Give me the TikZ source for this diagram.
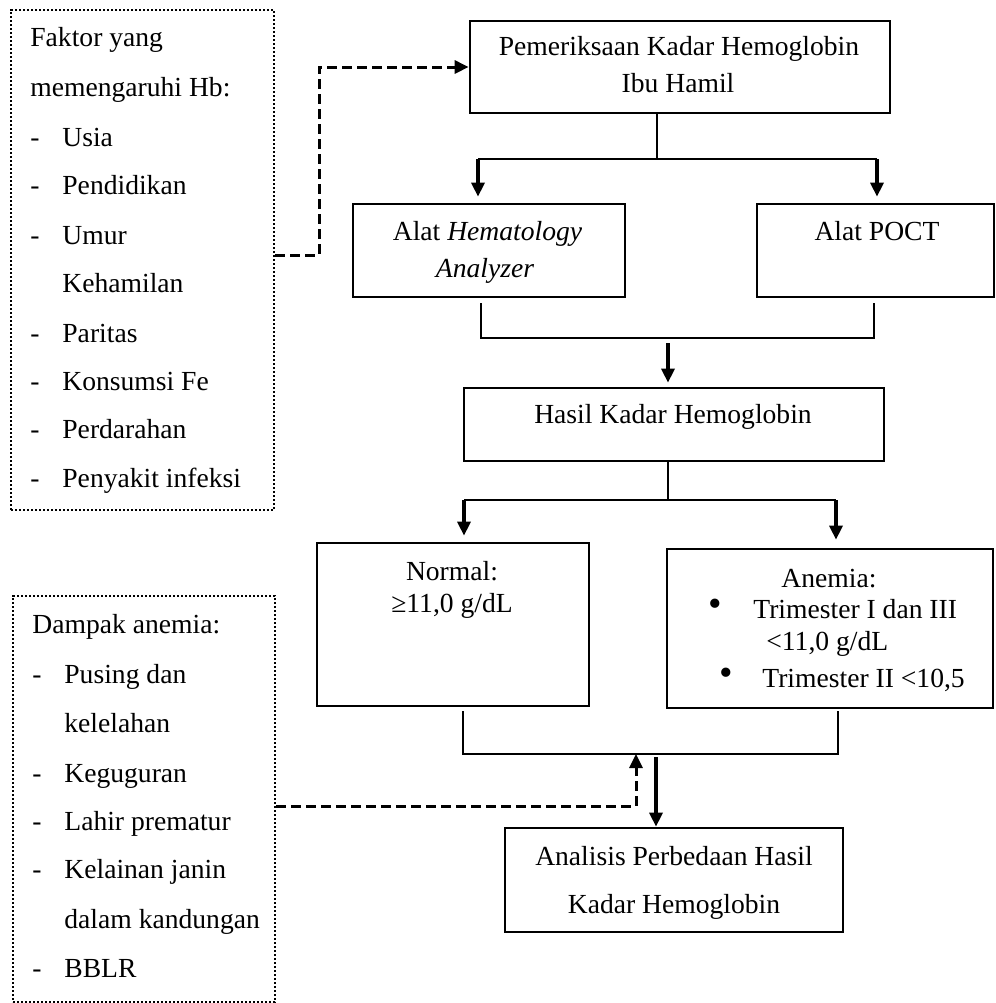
\documentclass[tikz,border=0pt]{standalone}
\usepackage{fontspec}
\setmainfont{Liberation Serif}
\usetikzlibrary{arrows.meta}

\begin{document}
\begin{tikzpicture}[x=0.5pt,y=-0.5pt,
  font=\fontsize{13.8pt}{16pt}\selectfont,
  txt/.style={inner sep=0pt,anchor=base},
  txtl/.style={inner sep=0pt,anchor=base west},
  box/.style={draw,line width=1.35pt,inner sep=0pt},
  dotbox/.style={draw,line width=1.1pt,dash pattern=on 1.1pt off 0.9pt,inner sep=0pt},
  line/.style={line width=1.1pt},
  arr/.style={line width=1.6pt,-{Triangle[length=7pt,width=6.5pt]}},
  dasharr/.style={line width=1.5pt,dash pattern=on 5pt off 2.5pt,-{Triangle[length=7pt,width=6.5pt]}}]
  \useasboundingbox (0,0) rectangle (996,1003);
  % boxes
  \node[box,minimum width=210pt,minimum height=46pt] (periksa) at(680,67){};
  \node[box,minimum width=136pt,minimum height=46.5pt] (hema) at(489,250.5){};
  \node[box,minimum width=118.5pt,minimum height=46.5pt] (poct) at(875.5,250.5){};
  \node[box,minimum width=210pt,minimum height=36.5pt] (hasil) at(674,424.5){};
  \node[box,minimum width=136pt,minimum height=81.5pt] (normal) at(453,624.5){};
  \node[box,minimum width=163pt,minimum height=79.5pt] (anemia) at(830,628.5){};
  \node[box,minimum width=169pt,minimum height=52pt] (analisis) at(674,880){};
  \node[dotbox,minimum width=131.5pt,minimum height=250pt] (faktor) at(142.5,260){};
  \node[dotbox,minimum width=131pt,minimum height=203pt] (dampak) at(144,799){};
  % texts in the flow
  \node[txt] (periksa1) at(679,55){Pemeriksaan Kadar Hemoglobin};
  \node[txt] (periksa2) at(678,92){Ibu Hamil};
  \node[txt] (hema1) at(487.5,240){Alat \textit{Hematology}};
  \node[txt] (hema2) at(485,277){\textit{Analyzer}};
  \node[txt] (poct1) at(877,240){Alat POCT};
  \node[txt] (hasil1) at(673,423){Hasil Kadar Hemoglobin};
  \node[txt] (normal1) at(452,580){Normal:};
  \node[txt] (normal2) at(452,612){≥11,0 g/dL};
  \node[txt] (anemia1) at(829,587){Anemia:};
  \node[txt,scale=1.4] (bullet1) at(715,616){•};
  \node[txtl] (anemia2) at(753,618){Trimester I dan III};
  \node[txtl] (anemia3) at(766,650){<11,0 g/dL};
  \node[txt,scale=1.4] (bullet2) at(726,685){•};
  \node[txtl] (anemia4) at(762,687){Trimester II <10,5};
  \node[txt] (analisis1) at(674,865){Analisis Perbedaan Hasil};
  \node[txt] (analisis2) at(674,913){Kadar Hemoglobin};
  % faktor list
  \node[txtl] (faktor1) at(30,46){Faktor yang};
  \node[txtl] (faktor2) at(30,96){memengaruhi Hb:};
  \node[txtl] (fdash1) at(30,146){-};
  \node[txtl] (fitem1) at(62,146){Usia};
  \node[txtl] (fdash2) at(30,194){-};
  \node[txtl] (fitem2) at(62,194){Pendidikan};
  \node[txtl] (fdash3) at(30,244){-};
  \node[txtl] (fitem3) at(62,244){Umur};
  \node[txtl] (fitem3b) at(62,292){Kehamilan};
  \node[txtl] (fdash4) at(30,342){-};
  \node[txtl] (fitem4) at(62,342){Paritas};
  \node[txtl] (fdash5) at(30,390){-};
  \node[txtl] (fitem5) at(62,390){Konsumsi Fe};
  \node[txtl] (fdash6) at(30,438){-};
  \node[txtl] (fitem6) at(62,438){Perdarahan};
  \node[txtl] (fdash7) at(30,487){-};
  \node[txtl] (fitem7) at(62,487){Penyakit infeksi};
  % dampak list
  \node[txtl] (dampak1) at(32,633){Dampak anemia:};
  \node[txtl] (ddash1) at(32,683){-};
  \node[txtl] (ditem1) at(64,683){Pusing dan};
  \node[txtl] (ditem1b) at(64,732){kelelahan};
  \node[txtl] (ddash2) at(32,782){-};
  \node[txtl] (ditem2) at(64,782){Keguguran};
  \node[txtl] (ddash3) at(32,830){-};
  \node[txtl] (ditem3) at(64,830){Lahir prematur};
  \node[txtl] (ddash4) at(32,878){-};
  \node[txtl] (ditem4) at(64,878){Kelainan janin};
  \node[txtl] (ditem4b) at(64,928){dalam kandungan};
  \node[txtl] (ddash5) at(32,977){-};
  \node[txtl] (ditem5) at(64,977){BBLR};
  % split below periksa
  \coordinate (s1) at(657,159);
  \coordinate (s1l) at(478,159);
  \coordinate (s1r) at(877,159);
  \draw[line] (s1 |- periksa.south) -- (s1);
  \draw[line] (s1l) -- (s1r);
  \draw[arr,shorten >=3pt] (s1l) -- (s1l |- hema.north);
  \draw[arr,shorten >=3pt] (s1r) -- (s1r |- poct.north);
  % merge below the two tools
  \coordinate (m1l) at(481,338);
  \coordinate (m1r) at(874,338);
  \coordinate (m1) at(668,338);
  \draw[line,shorten <=2.5pt,shorten >=2.5pt] (m1l |- hema.south) -- (m1l) -- (m1r) -- (m1r |- poct.south);
  \draw[arr,shorten <=2.5pt,shorten >=2pt] (m1) -- (m1 |- hasil.north);
  % split below hasil
  \coordinate (s2) at(668,500);
  \coordinate (s2l) at(464,500);
  \coordinate (s2r) at(836,500);
  \draw[line] (s2 |- hasil.south) -- (s2);
  \draw[line] (s2l) -- (s2r);
  \draw[arr,shorten >=3pt] (s2l) -- (s2l |- normal.north);
  \draw[arr,shorten >=4pt] (s2r) -- (s2r |- anemia.north);
  % merge below normal and anemia
  \coordinate (m2l) at(463,754);
  \coordinate (m2r) at(838,754);
  \coordinate (m2) at(656,754);
  \draw[line,shorten <=2pt,shorten >=1pt] (m2l |- normal.south) -- (m2l) -- (m2r) -- (m2r |- anemia.south);
  \draw[arr,shorten <=1.5pt] (m2) -- (m2 |- analisis.north);
  % dashed links
  \coordinate (d1) at(319,255);
  \draw[dasharr] (faktor.east |- d1) -- (d1) |- (periksa.west);
  \coordinate (d2) at(636,806);
  \draw[dasharr] (dampak.east |- d2) -- (d2) -- (d2 |- m2);
\end{tikzpicture}
\end{document}
